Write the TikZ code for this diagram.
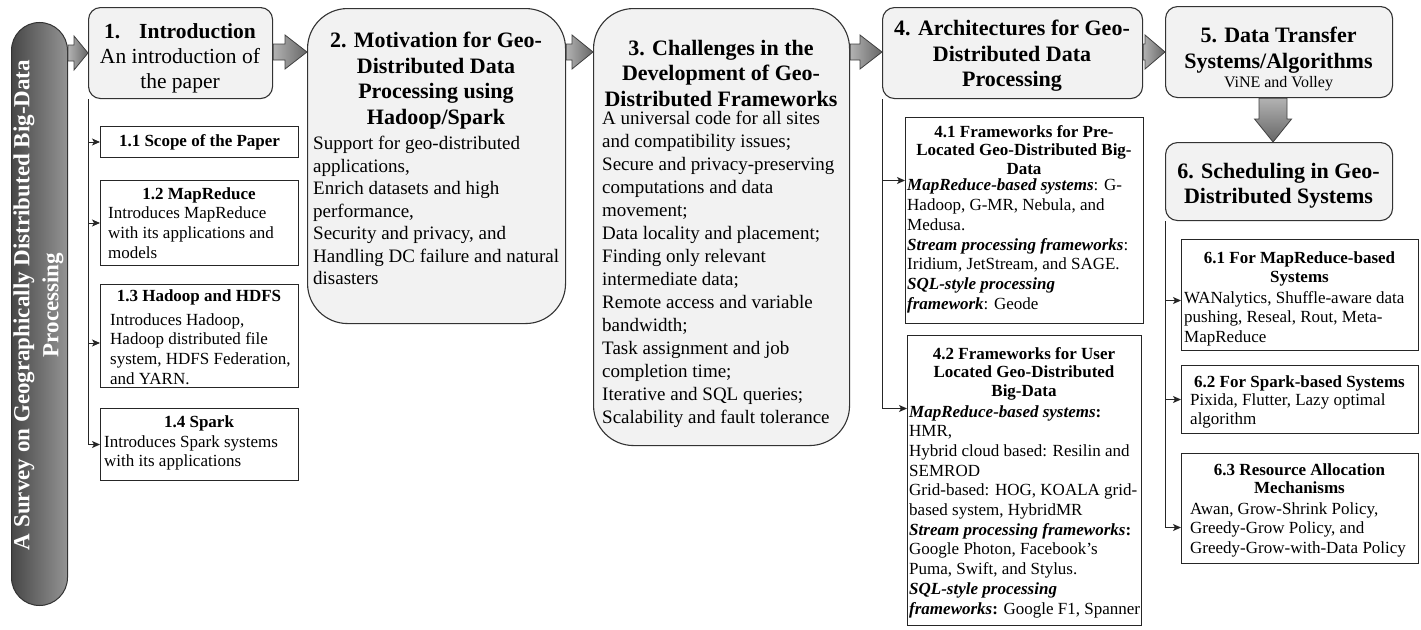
\documentclass[tikz,border=0pt]{standalone}
\usepackage{fontspec}
\setmainfont{Liberation Serif}
\usetikzlibrary{arrows.meta,calc}
\definecolor{boxfill}{HTML}{F2F2F2}
\newcommand\myfs[2]{\fontsize{#1pt}{#2pt}\selectfont}
\newcommand\bitx[1]{\textbf{\textit{#1}}}
% horizontal block arrow: from node, to node, y position, head length
\newcommand\hblock[4]{%
  \path[blockarrow] let \p1=(#1.east), \p2=(#2.west), \p3=(0,#3) in
    (\x1,\y3+8pt) -- (\x2-#4pt,\y3+8pt) -- (\x2-#4pt,\y3+17pt) -- (\x2,\y3)
    -- (\x2-#4pt,\y3-17pt) -- (\x2-#4pt,\y3-8pt) -- (\x1,\y3-8pt) -- cycle;}

\begin{document}
\begin{tikzpicture}[x=1pt,y=-1pt,
  sidebar/.style={draw=black!80, line width=1pt, left color=black!72, right color=black!42,
    inner sep=0, anchor=north west},
  rbox/.style={draw=black!80, fill=boxfill, line width=1.1pt, rounded corners=#1,
    inner sep=0, anchor=north west},
  sbox/.style={draw=black!85, fill=white, line width=1pt, inner sep=0, anchor=north west},
  ttl/.style={anchor=north, align=center, inner sep=0, font={\bfseries\myfs{22}{25.5}}},
  ttls/.style={anchor=north, align=center, inner sep=0, font={\bfseries\myfs{17}{18.5}}},
  bdy/.style={anchor=north west, align=left, inner sep=0, font={\myfs{19}{22.5}}},
  bdys/.style={anchor=north west, align=left, inner sep=0, font={\myfs{17}{19.7}}},
  conn/.style={draw=black!85, line width=0.9pt, -{Stealth[length=8pt,width=7pt,inset=2pt]}},
  blockarrow/.style={draw=black!75, line width=0.8pt, left color=black!30, right color=black!60},
  blockarrowv/.style={draw=black!75, line width=0.8pt, top color=black!30, bottom color=black!60}
]
\useasboundingbox (0,0) rectangle (1421,629);

% side bar with the survey title
\node[sidebar, minimum width=56pt, minimum height=583pt, rounded corners=28pt] (survey) at (11,22) {};
\node[rotate=90, text=white, align=center, inner sep=0, font={\bfseries\myfs{23}{29}}] (surveyt)
  at ([xshift=-1pt,yshift=9pt]survey.center) {A Survey on Geographically Distributed Big-Data\\Processing};

% 1. Introduction
\node[rbox=12pt, minimum width=184pt, minimum height=91pt] (intro) at (88,7) {};
\node[anchor=north, align=center, inner sep=0, font={\myfs{21.5}{25}}] (introt) at (180,23)
  {\textbf{1.\hspace{19pt}Introduction}\\An introduction of\\the paper};

\node[sbox, minimum width=198pt, minimum height=31pt, font={\bfseries\myfs{17}{20}}] (s11) at (100,126) {1.1 Scope of the Paper};

\node[sbox, minimum width=198pt, minimum height=85pt] (s12) at (100,180) {};
\node[ttls] (s12t) at (199,188) {1.2 MapReduce};
\node[bdys] (s12b) at (108,207) {Introduces MapReduce\\with its applications and\\models};

\node[sbox, minimum width=198pt, minimum height=103pt] (s13) at (100,284) {};
\node[ttls] (s13t) at (199,290) {1.3 Hadoop and HDFS};
\node[bdys] (s13b) at (110,313) {Introduces Hadoop,\\Hadoop distributed file\\system, HDFS Federation,\\and YARN.};

\node[sbox, minimum width=198pt, minimum height=72pt] (s14) at (100,408) {};
\node[ttls] (s14t) at (199,415) {1.4 Spark};
\node[bdys] (s14b) at (104,435) {Introduces Spark systems\\with its applications};

% 2. Motivation
\node[rbox=40pt, minimum width=258pt, minimum height=315pt] (mot) at (307,8) {};
\node[ttl] (mott) at (436,32) {2. Motivation for Geo-\\Distributed Data\\Processing using\\Hadoop/Spark};
\node[bdy] (motb) at (313,136) {Support for geo-distributed\\applications,\\Enrich datasets and high\\performance,\\Security and privacy, and\\Handling DC failure and natural\\disasters};

% 3. Challenges
\node[rbox=40pt, minimum width=256pt, minimum height=437pt] (chal) at (593,8) {};
\node[ttl] (chalt) at (721,40) {3. Challenges in the\\Development of Geo-\\Distributed Frameworks};
\node[bdy, font={\myfs{19}{23}}] (chalb) at (602,111) {A universal code for all sites\\and compatibility issues;\\Secure and privacy-preserving\\computations and data\\movement;\\Data locality and placement;\\Finding only relevant\\intermediate data;\\Remote access and variable\\bandwidth;\\Task assignment and job\\completion time;\\Iterative and SQL queries;\\Scalability and fault tolerance};

% 4. Architectures
\node[rbox=12pt, minimum width=260pt, minimum height=91pt] (arch) at (882,7) {};
\node[ttl] (archt) at (1012,20) {4. Architectures for Geo-\\Distributed Data\\Processing};

\node[sbox, minimum width=238pt, minimum height=206pt] (f41) at (905,117) {};
\node[ttls] (f41t) at (1024,125) {4.1 Frameworks for Pre-\\Located Geo-Distributed Big-\\Data};
\node[bdys] (f41b) at (907,179) {\bitx{MapReduce-based systems}: G-\\Hadoop, G-MR, Nebula, and\\Medusa.\\\bitx{Stream processing frameworks}:\\Iridium, JetStream, and SAGE.\\\bitx{SQL-style processing}\\\bitx{framework}: Geode};

\node[sbox, minimum width=234pt, minimum height=290pt] (f42) at (907,335) {};
\node[ttls] (f42t) at (1024,347) {4.2 Frameworks for User\\Located Geo-Distributed\\Big-Data};
\node[bdys] (f42b) at (909,405) {\bitx{MapReduce-based systems}\textbf{:}\\HMR,\\Hybrid cloud based: Resilin and\\SEMROD\\Grid-based: HOG, KOALA grid-\\based system, HybridMR\\\bitx{Stream processing frameworks}\textbf{:}\\Google Photon, Facebook’s\\Puma, Swift, and Stylus.\\\bitx{SQL-style processing}\\\bitx{frameworks}\textbf{:} Google F1, Spanner};

% 5. Data transfer
\node[rbox=12pt, minimum width=227pt, minimum height=91pt] (dt) at (1165,6) {};
\node[ttl] (dtt) at (1278.5,27) {5. Data Transfer\\Systems/Algorithms};
\node[anchor=north, inner sep=0, font={\myfs{16}{19}}] (dtb) at (1278.5,76) {ViNE and Volley};

% 6. Scheduling
\node[rbox=12pt, minimum width=227pt, minimum height=78pt] (sched) at (1165,142) {};
\node[ttl] (schedt) at (1278.5,163) {6. Scheduling in Geo-\\Distributed Systems};

\node[sbox, minimum width=237pt, minimum height=111pt] (s61) at (1181,239) {};
\node[ttls] (s61t) at (1299.5,252) {6.1 For MapReduce-based\\Systems};
\node[bdys] (s61b) at (1184,291) {WANalytics, Shuffle-aware data\\pushing, Reseal, Rout, Meta-\\MapReduce};

\node[sbox, minimum width=237pt, minimum height=68pt] (s62) at (1181,365) {};
\node[ttls] (s62t) at (1299.5,375) {6.2 For Spark-based Systems};
\node[bdys] (s62b) at (1190,393) {Pixida, Flutter, Lazy optimal\\algorithm};

\node[sbox, minimum width=237pt, minimum height=110pt] (s63) at (1181,453) {};
\node[ttls] (s63t) at (1299.5,463) {6.3 Resource Allocation\\Mechanisms};
\node[bdys] (s63b) at (1190,502) {Awan, Grow-Shrink Policy,\\Greedy-Grow Policy, and\\Greedy-Grow-with-Data Policy};

% block arrows along the main sequence
\hblock{survey}{intro}{53}{14}
\hblock{intro}{mot}{52}{22}
\hblock{mot}{chal}{52}{21}
\hblock{chal}{arch}{52}{22}
\hblock{arch}{dt}{52}{20}
\path[blockarrowv] let \p1=(dt.south), \p2=(sched.north) in
  (\x1-20pt,\y1) -- (\x1-20pt,\y2+23pt) -- (\x1-24.5pt,\y2+23pt) -- (\x1-6pt,\y2)
  -- (\x1+12.5pt,\y2+23pt) -- (\x1+8pt,\y2+23pt) -- (\x1+8pt,\y1) -- cycle;

% branch connectors to the subsections
\draw[conn] (intro.south west) |- (s11.west);
\draw[conn] (intro.south west) |- (s12.west);
\draw[conn] (intro.south west) |- ([yshift=-7pt]s13.west);
\draw[conn] (intro.south west) |- (s14.west);
\draw[conn] (arch.south west) |- ([yshift=40pt]f41.west);
\draw[conn] (arch.south west) |- ([yshift=72pt]f42.west);
\draw[conn] (sched.south west) |- ([yshift=-5.5pt]s61.west);
\draw[conn] (sched.south west) |- (s62.west);
\draw[conn] (sched.south west) |- ([yshift=-19pt]s63.west);
\end{tikzpicture}
\end{document}
